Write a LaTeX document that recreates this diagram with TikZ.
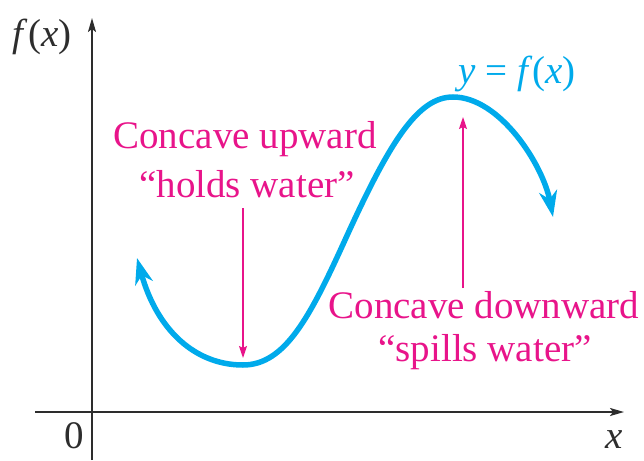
\documentclass[tikz,border=0pt]{standalone}
\usepackage{fontspec}
\setmainfont{Liberation Serif}
\usetikzlibrary{arrows.meta}
\definecolor{curvecyan}{RGB}{0,170,235}
\definecolor{notepink}{RGB}{232,20,138}
\definecolor{axisgray}{RGB}{45,45,45}
\begin{document}
\begin{tikzpicture}[x=1pt,y=-1pt,
  lbl/.style={inner sep=0pt, anchor=base, font=\fontsize{39}{47}\selectfont, text=axisgray},
  note/.style={lbl, text=notepink},
  axisline/.style={draw=axisgray, line width=1.8pt, -{Stealth[length=14pt,width=8pt,inset=3pt]}},
  curveline/.style={draw=curvecyan, line width=5.5pt,
    {Stealth[length=26pt,width=18pt,inset=8pt]}-{Stealth[length=26pt,width=18pt,inset=8pt]}},
  notearrow/.style={draw=notepink, line width=1.5pt, -{Stealth[length=12pt,width=8pt,inset=2pt]}}]
\useasboundingbox (0,0) rectangle (644,460);
% axes
\coordinate (ybot) at (92,460);
\coordinate (ytop) at (92,18);
\coordinate (xleft) at (35,412);
\coordinate (xright) at (624,412);
\draw[axisline] (ybot) -- (ytop);
\draw[axisline] (xleft) -- (xright);
% curve
\coordinate (c0) at (137,258);
\coordinate (cmin) at (243,365);
\coordinate (cinf) at (345,240);
\coordinate (cmax) at (453,97);
\coordinate (cend) at (553,217);
\draw[curveline] (c0) .. controls (157,330) and (195,365) .. (cmin)
  .. controls (285,365) and (310,317) .. (cinf)
  .. controls (390,141) and (418,97) .. (cmax)
  .. controls (500,97) and (543,165) .. (cend);
% note arrows
\coordinate (pa1) at (243,208);
\coordinate (pa2) at (243,358);
\coordinate (pb1) at (463,288);
\coordinate (pb2) at (463,117);
\draw[notearrow] (pa1) -- (pa2);
\draw[notearrow] (pb1) -- (pb2);
% texts
\node[note] (up1) at (245,148) {Concave upward};
\node[note] (up2) at (247,197) {“holds water”};
\node[note] (dn1) at (484,318) {Concave downward};
\node[note] (dn2) at (485,361) {“spills water”};
\node[lbl, text=curvecyan] (fl) at (517,83) {\textit{y} = \textit{f}(\textit{x})};
\node[lbl] (fx) at (42,47) {\textit{f}(\textit{x})};
\node[lbl] (zero) at (74,448) {0};
\node[lbl] (xl) at (614,448) {\textit{x}};
\end{tikzpicture}
\end{document}
